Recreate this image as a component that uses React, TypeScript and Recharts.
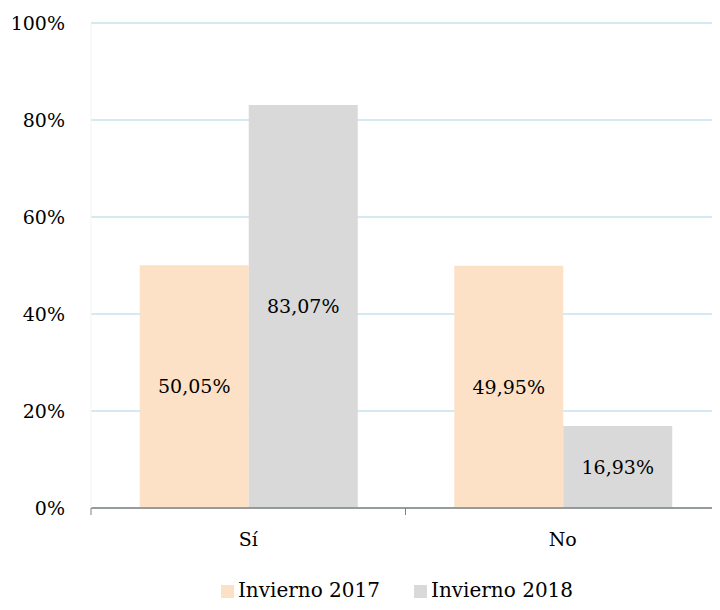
import React from "react";
import { BarChart, Bar, XAxis, YAxis, CartesianGrid, Legend, LabelList } from "recharts";

const categories = ["Sí", "No"];
const invierno2017 = [50.05, 49.95];
const invierno2018 = [83.07, 16.93];
const yTicks = [0, 20, 40, 60, 80, 100];

const data = categories.map((c, i) => ({ name: c, v2017: invierno2017[i], v2018: invierno2018[i] }));

const FONT = "'DejaVu Serif', serif";
const FS = 19;
const W = 712;
const H = 602;
const LEFT = 83;
const RIGHT = 0;

const fmt = (v: any) => `${Number(v).toFixed(2).replace(".", ",")}%`;

const XTick = (props: any) => {
  const { x, y, payload, index } = props;
  const band = (W - LEFT - RIGHT) / categories.length;
  return (
    <g>
      <line x1={x - band / 2} x2={x - band / 2} y1={y - 8} y2={y - 1} stroke="#808080" strokeWidth={1} />
      {index === categories.length - 1 && (
        <line x1={x + band / 2} x2={x + band / 2} y1={y - 8} y2={y - 1} stroke="#808080" strokeWidth={1} />
      )}
      <text x={x} y={y + 30} textAnchor="middle" fill="#000" fontSize={FS} fontFamily={FONT}>
        {payload.value}
      </text>
    </g>
  );
};

export default function App() {
  return (
    <BarChart
      width={W}
      height={H}
      data={data}
      margin={{ top: 15, right: RIGHT, left: 0, bottom: 8 }}
      barCategoryGap="15.5%"
      barGap={0}
    >
      <CartesianGrid vertical={false} stroke="#d5e9f3" strokeWidth={2} />
      <XAxis
        dataKey="name"
        axisLine={{ stroke: "#808080", strokeWidth: 1.5 }}
        tickLine={false}
        tick={<XTick />}
        height={70}
        interval={0}
      />
      <YAxis
        width={LEFT}
        domain={[0, 100]}
        ticks={yTicks}
        tickFormatter={(v: number) => `${v}%`}
        axisLine={{ stroke: "#f3f3f3" }}
        tickLine={false}
        tickMargin={20}
        tick={{ fill: "#000", fontSize: FS, fontFamily: FONT }}
      />
      <Legend
        verticalAlign="bottom"
        iconType="square"
        iconSize={13}
        height={24}
        wrapperStyle={{ fontFamily: FONT, fontSize: 20, color: "#000", paddingLeft: 100, boxSizing: "border-box" }}
        formatter={(value: string) => <span style={{ color: "#000", marginRight: 24 }}>{value}</span>}
      />
      <Bar dataKey="v2017" name="Invierno 2017" fill="#fde1c6" isAnimationActive={false}>
        <LabelList dataKey="v2017" position="center" formatter={fmt} fill="#000" fontSize={FS} fontFamily={FONT} />
      </Bar>
      <Bar dataKey="v2018" name="Invierno 2018" fill="#d9d9d9" isAnimationActive={false}>
        <LabelList dataKey="v2018" position="center" formatter={fmt} fill="#000" fontSize={FS} fontFamily={FONT} />
      </Bar>
    </BarChart>
  );
}
